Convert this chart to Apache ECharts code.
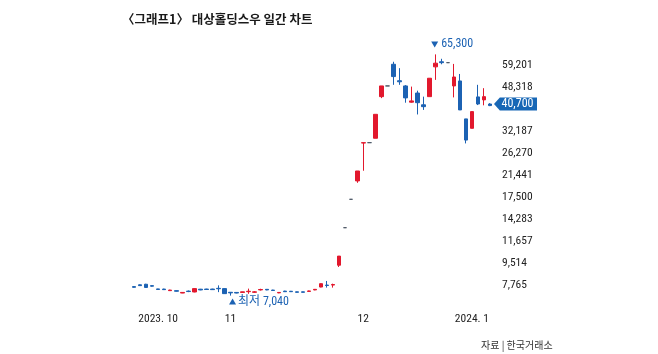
<!DOCTYPE html>
<html>
<head>
<meta charset="utf-8">
<script src="https://cdn.jsdelivr.net/npm/echarts@6/dist/echarts.min.js"></script>
<style>
  html, body { margin: 0; padding: 0; background: #fff; }
  #chart { width: 658px; height: 354px; }
</style>
</head>
<body>
<div id="chart"></div>
<script>
// 거래일 (2023.10.11 ~ 2024.1.5)
const dates = [
  '2023-10-11', '2023-10-12', '2023-10-13', '2023-10-16', '2023-10-17', '2023-10-18', '2023-10-19', '2023-10-20',
  '2023-10-23', '2023-10-24', '2023-10-25', '2023-10-26', '2023-10-27', '2023-10-30', '2023-10-31',
  '2023-11-01', '2023-11-02', '2023-11-03', '2023-11-06', '2023-11-07', '2023-11-08', '2023-11-09', '2023-11-10',
  '2023-11-13', '2023-11-14', '2023-11-15', '2023-11-16', '2023-11-17', '2023-11-20', '2023-11-21', '2023-11-22',
  '2023-11-23', '2023-11-24', '2023-11-27', '2023-11-28', '2023-11-29', '2023-11-30',
  '2023-12-01', '2023-12-04', '2023-12-05', '2023-12-06', '2023-12-07', '2023-12-08', '2023-12-11', '2023-12-12',
  '2023-12-13', '2023-12-14', '2023-12-15', '2023-12-18', '2023-12-19', '2023-12-20', '2023-12-21', '2023-12-22',
  '2023-12-26', '2023-12-27', '2023-12-28',
  '2024-01-02', '2024-01-03', '2024-01-04', '2024-01-05'
]

const opens = [
  7650, 7780, 7820, 7720, 7490, 7480, 7370, 7370, 7210, 7340, 7280, 7470, 7480, 7480, 7530,
  7510, 7260, 7250, 7250, 7300, 7260, 7420, 7460, 7410, 7220, 7340, 7330, 7290, 7290, 7320, 7420,
  7620, 7760, 7760, 9320, 13180, 17130,
  20300, 28800, 28900, 30100, 44200, 48800, 59600, 51200, 48800, 42000, 45700, 41000, 44200, 58200,
  61000, 60500, 48800, 51100, 36000,
  33000, 44100, 42900, 41300
]
const closes = [
  7600, 7720, 7590, 7680, 7450, 7440, 7410, 7330, 7250, 7310, 7510, 7420, 7450, 7440, 7500,
  7170, 7220, 7210, 7290, 7330, 7290, 7450, 7420, 7380, 7250, 7300, 7300, 7260, 7260, 7350, 7460,
  7860, 7730, 7800, 10140, 13180, 17130,
  22250, 28900, 28900, 37550, 48800, 48800, 53200, 50700, 43700, 42500, 41800, 40300, 52400, 60200,
  60500, 60500, 53000, 39100, 29600,
  38500, 41300, 44200, 40700
]
const lows = [
  7580, 7700, 7570, 7650, 7430, 7420, 7350, 7310, 7200, 7270, 7260, 7400, 7430, 7420, 7270,
  7150, 7040, 7190, 7230, 7160, 7220, 7380, 7400, 7360, 7200, 7290, 7280, 7240, 7250, 7300, 7400,
  7600, 7580, 7580, 9170, 13180, 17130,
  19950, 22300, 28900, 30100, 43600, 48800, 49300, 49300, 41800, 41800, 37500, 39100, 44200, 51600,
  59600, 60500, 43900, 39100, 28700,
  33000, 40900, 40800, 40500
]
const highs = [
  7680, 7800, 7850, 7740, 7500, 7500, 7430, 7390, 7270, 7380, 7530, 7490, 7500, 7500, 7740,
  7530, 7280, 7270, 7300, 7510, 7340, 7500, 7480, 7430, 7270, 7360, 7350, 7300, 7300, 7370, 7480,
  7880, 8060, 7860, 10140, 13180, 17130,
  22250, 28900, 28900, 37550, 48800, 48800, 61000, 57500, 49200, 48500, 46700, 44200, 52400, 65300,
  62700, 60500, 59800, 54500, 36000,
  38500, 49300, 47800, 41600
]

// 세로축 눈금 (39,436 자리는 현재가 표시에 가려짐)
const yTicks = [7765, 9514, 11657, 14283, 17500, 21441, 26270, 32187, 48318, 59201]

// 가로축 월 표시
const xTickIdx = [4, 16, 38, 56]
const xTickText = ['2023. 10', '11', '12', '2024. 1']

const RED = '#e2182d'
const BLUE = '#1c62b3'
// 좁은 숫자 글꼴
const NUM_FONT = '"Roboto Condensed", "Liberation Sans Narrow", "Noto Sans", "Noto Sans CJK KR", sans-serif'
const NUM_STYLE = { fontFamily: NUM_FONT, fontStyle: 'condensed' }

const fmt = v => Math.round(v).toLocaleString('en-US')

const candles = dates.map((d, i) => [opens[i], closes[i], lows[i], highs[i]])
const last = dates.length - 1

// 로그 눈금 한 칸의 비율
const r = yTicks[1] / yTicks[0]
const y0 = yTicks[0]

const chart = echarts.init(document.getElementById('chart'))

const option = {
  animation: false,
  backgroundColor: '#fff',
  title: [
    {
      text: '〈그래프1〉 대상홀딩스우 일간 차트',
      left: 117,
      top: 8,
      textStyle: { fontFamily: '"Noto Sans CJK KR"', fontWeight: 'bold', fontSize: 12.5, color: '#1a1a1a' }
    },
    {
      text: '자료 | 한국거래소',
      left: 476,
      top: 335,
      textStyle: { fontFamily: '"Noto Sans CJK KR"', fontWeight: 'normal', fontSize: 10, color: '#333' }
    }
  ],
  grid: { left: 131, right: 165, top: 43, bottom: 47 },
  xAxis: {
    type: 'category',
    data: dates,
    boundaryGap: true,
    axisLine: { show: false },
    axisTick: { show: false },
    splitLine: { show: false },
    axisLabel: Object.assign({
      margin: 6,
      color: '#222',
      fontSize: 11.5,
      interval: (index) => xTickIdx.indexOf(index) >= 0,
      formatter: (value, index) => xTickText[xTickIdx.indexOf(index)] || ''
    }, NUM_STYLE)
  },
  yAxis: [
    {
      // 캔들용 로그축
      type: 'log',
      min: y0 / r,
      max: y0 * Math.pow(r, 11),
      show: false
    },
    {
      // 눈금 라벨용 (로그 칸 단위)
      type: 'value',
      position: 'right',
      min: -1,
      max: 11,
      interval: 1,
      axisLine: { show: false },
      axisTick: { show: false },
      splitLine: { show: false },
      axisLabel: Object.assign({
        showMinLabel: false,
        showMaxLabel: false,
        margin: 9,
        color: '#222',
        fontSize: 11.5,
        formatter: (u) => {
          const v = y0 * Math.pow(r, u)
          const hit = yTicks.find(t => Math.abs(Math.log(t / v)) < 0.05)
          return hit ? fmt(hit) : ''
        }
      }, NUM_STYLE)
    }
  ],
  series: [{
    type: 'candlestick',
    yAxisIndex: 0,
    data: candles,
    barWidth: 4,
    itemStyle: {
      color: RED,
      color0: BLUE,
      borderColor: RED,
      borderColor0: BLUE,
      borderColorDoji: '#4d5866',
      borderWidth: 1
    },
    markPoint: {
      silent: true,
      data: [
        {
          type: 'max',
          valueDim: 'highest',
          symbol: 'triangle',
          symbolRotate: 180,
          symbolSize: [7, 6],
          symbolOffset: [-1, -10],
          itemStyle: { color: BLUE },
          label: Object.assign({
            show: true, position: 'right', distance: 3,
            color: BLUE, fontSize: 12,
            formatter: p => fmt(p.value)
          }, NUM_STYLE)
        },
        {
          type: 'min',
          valueDim: 'lowest',
          symbol: 'triangle',
          symbolSize: [7, 6],
          symbolOffset: [2, 6],
          itemStyle: { color: BLUE },
          label: Object.assign({
            show: true, position: 'right', distance: 2,
            color: BLUE, fontSize: 12,
            formatter: p => '최저 ' + fmt(p.value)
          }, NUM_STYLE)
        },
        {
          coord: [dates[last], closes[last]],
          value: closes[last],
          symbol: 'path://M0,6L6,0H44V12H6Z',
          symbolSize: [43, 13],
          symbolOffset: [25.5, -1.5],
          itemStyle: { color: '#1767b6' },
          label: Object.assign({
            show: true, position: 'inside', offset: [2, 0],
            color: '#fff', fontSize: 12,
            formatter: p => fmt(p.value)
          }, NUM_STYLE)
        }
      ]
    }
  }]
}

chart.setOption(option)
</script>
</body>
</html>
